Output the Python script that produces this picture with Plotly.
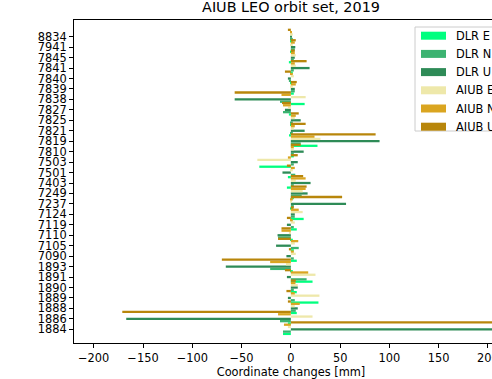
import numpy as np
import plotly.graph_objects as go

stations = ["1884", "1886", "1888", "1889", "1890", "1891", "1893", "7090", "7105", "7110",
            "7119", "7124", "7237", "7249", "7403", "7501", "7503", "7810", "7819", "7821",
            "7825", "7827", "7838", "7839", "7840", "7841", "7845", "7941", "8834"]

dlr_e = [-8, -3, 6, 28, 6, 22, 2, 6, 3, 2, 6, 13, 2, 3, -4, -3, -32, 3, 27, -1,
         2, -2, 14, 3, 1, 2, -2, 2, 2]
dlr_n = [-8, -11, 5, 4, 3, 16, -21, 3, 8, -13, 3, 4, 3, 11, 3, 4.5, 3, 3, 10, 2,
         2, -8, -11, 4, -2, 3, 3, 4, 2]
dlr_u = [240, -167, 7, -3, 7, -4, -66, -4.5, -15, -13.5, -4, 4, 56, 17, 20, -8.5, 7, 13, 90, 14,
         10, -6, -57, 4, -3, 19, 4, 4.5, 1]
aiub_e = [-3, 22, 4, 29, 7, 25, -5, 5, 4, -2, 4, 12, 1, 12, 5, 2, -34, 3, 30, 3,
          4, -3, 15, 2, 3, 5, 5, 2, 2]
aiub_n = [-7, -13, 9, 4, 4.7, 17.6, -21, 3, 7.5, -9.5, 2, 8, 2, 15, 15, 4, -3, 3, 24, 4,
          5, -8, -9.5, 5, 2, 4, 4, 4, 1]
aiub_u = [230, -171, -3, -4.5, 5, -6, -70, -2, -13, -9.5, -4, 3, 52, 16, 12.5, -4, 7, 10, 86, 15,
          8, -9, -57, 6, -6, 16, 4, 5, -3]

series_names = ["DLR E", "DLR N", "DLR U", "AIUB E", "AIUB N", "AIUB U"]
series_values = [dlr_e, dlr_n, dlr_u, aiub_e, aiub_n, aiub_u]
series_colors = ["#00FF7F", "#3CB371", "#2E8B57", "#EEE8AA", "#DAA520", "#B8860B"]

x_ticks = [-200, -150, -100, -50, 0, 50, 100, 150, 200]
x_ticklabels = [str(v).replace("-", "\u2212") for v in x_ticks]

# the original figure is wider than the visible 492 px window; it is cropped on the right
W, H = 560, 379
ML, MR, MT, MB = 74, 52, 20, 36
PW, PH = W - ML - MR, H - MT - MB


def px(x):
    return (x - ML) / PW


def py(y):
    return (H - MB - y) / PH


pitch = 0.22
idx = np.arange(len(stations))

fig = go.Figure()
for i, (name, vals, col) in enumerate(zip(series_names, series_values, series_colors)):
    fig.add_trace(go.Bar(
        y=idx + (i - 2) * pitch, x=vals, orientation="h", width=pitch,
        marker=dict(color=col, line=dict(width=0)), name=name, showlegend=False,
    ))

# matplotlib-style legend box
shapes = [dict(type="rect", xref="paper", yref="paper", x0=px(415), x1=px(530),
               y0=py(131), y1=py(27), fillcolor="rgba(255,255,255,0.85)",
               line=dict(color="#cccccc", width=1), layer="above")]
annotations = []
for k, (name, col) in enumerate(zip(series_names, series_colors)):
    yc = 35.7 + 18.2 * k
    shapes.append(dict(type="rect", xref="paper", yref="paper", x0=px(421), x1=px(446),
                       y0=py(yc + 4), y1=py(yc - 4), fillcolor=col, line=dict(width=0),
                       layer="above"))
    annotations.append(dict(text=name, xref="paper", yref="paper", x=px(454), y=py(yc),
                            xanchor="left", yanchor="middle", showarrow=False,
                            font=dict(size=11.4)))

fig.update_layout(
    barmode="overlay",
    width=W, height=H,
    margin=dict(l=ML, r=MR, t=MT, b=MB, autoexpand=False),
    plot_bgcolor="white", paper_bgcolor="white",
    font=dict(family="DejaVu Sans", size=11.4, color="black"),
    title=dict(text="AIUB LEO orbit set, 2019", font=dict(size=14.4, family="DejaVu Sans"),
               x=0.5, xref="paper", xanchor="center", y=1 - 7 / H, yanchor="middle"),
    showlegend=False,
    shapes=shapes,
    annotations=annotations,
)
fig.update_xaxes(range=[-220, 220.3], tickvals=x_ticks, ticktext=x_ticklabels,
                 showline=True, linecolor="black", linewidth=1, mirror=True, ticks="outside",
                 ticklen=4, tickcolor="black", showgrid=False, zeroline=False,
                 title=dict(text="Coordinate changes [mm]", standoff=4, font=dict(size=11.4)))
fig.update_yaxes(range=[-1.31, 29.6], tickvals=idx, ticktext=stations,
                 showline=True, linecolor="black", linewidth=1, mirror=True, ticks="outside",
                 ticklen=4, tickcolor="black", showgrid=False, zeroline=False)

fig.write_html("out.html", config={"displayModeBar": False},
               post_script="document.body.style.margin='0';document.body.style.overflow='hidden';")
